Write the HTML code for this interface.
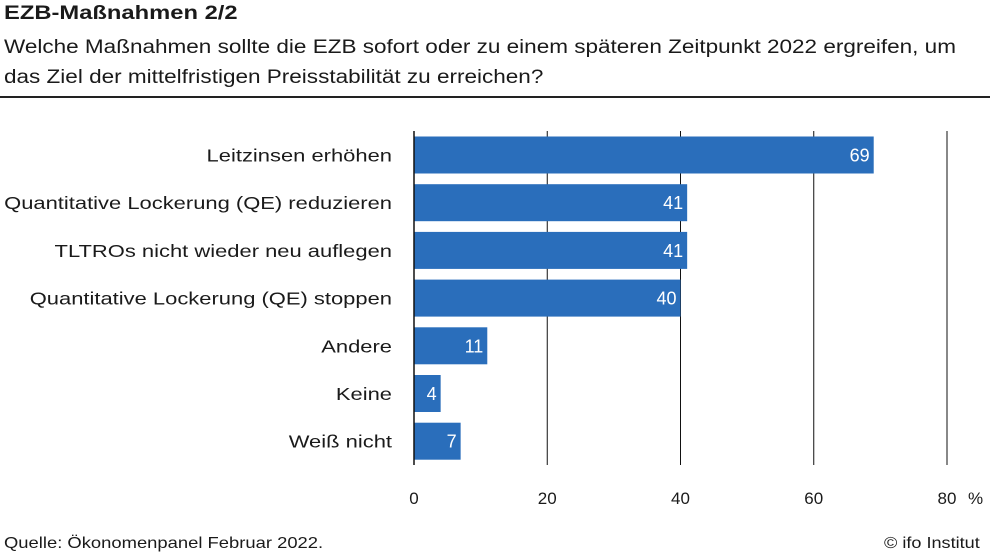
<!DOCTYPE html>
<html><head><meta charset="utf-8"><style>
body{margin:0;background:#fff;width:990px;height:557px;overflow:hidden;font-family:"Liberation Sans",sans-serif;color:#1a1a1a}
.t{position:absolute;white-space:nowrap;transform-origin:0 0}
</style></head><body>
<div class="t" style="left:4px;top:3px;font-size:19px;font-weight:bold;transform:scaleX(1.25)">EZB-Maßnahmen 2/2</div>
<div class="t" style="left:4px;top:33px;font-size:19px;line-height:30px;transform:scaleX(1.185)">Welche Maßnahmen sollte die EZB sofort oder zu einem späteren Zeitpunkt 2022 ergreifen, um<br>das Ziel der mittelfristigen Preisstabilität zu erreichen?</div>
<div style="position:absolute;left:0;top:96px;width:990px;height:2px;background:#222"></div>
<svg id="c" width="990" height="557" style="position:absolute;left:0;top:0"></svg>
<div class="t" style="left:4px;top:535px;font-size:16px;transform:scaleX(1.15)">Quelle: Ökonomenpanel Februar 2022.</div>
<div class="t" style="left:884px;top:535px;font-size:16px;transform:scaleX(1.13)">© ifo Institut</div>
<script>
const categories=["Leitzinsen erhöhen","Quantitative Lockerung (QE) reduzieren","TLTROs nicht wieder neu auflegen","Quantitative Lockerung (QE) stoppen","Andere","Keine","Weiß nicht"];
const values=[69,41,41,40,11,4,7];
const ticks=[0,20,40,60,80];
const NS="http://www.w3.org/2000/svg";
const svg=document.getElementById('c');
const x=v=>414+v*6.6625;
const yc=i=>155+i*47.7;
function mk(t,a,p){const e=document.createElementNS(NS,t);for(const k in a)e.setAttribute(k,a[k]);(p||svg).appendChild(e);return e;}
ticks.forEach(t=>{
 if(t>0){const l=mk('line',{x1:x(t),x2:x(t),y1:131,y2:465,stroke:'#111','stroke-width':1});
 
 }
 const tx=mk('text',{x:x(t),y:504,'text-anchor':'middle','font-size':17,fill:'#1a1a1a'});tx.textContent=t;
 
 
});
const pc=mk('text',{x:968,y:504,'font-size':17,fill:'#1a1a1a'});pc.textContent='%';


categories.forEach((c,i)=>{
 const r=mk('rect',{x:x(0),y:yc(i)-18.5,width:x(values[i])-x(0),height:37,fill:'#2a6ebb'});
 
 
 const v=mk('text',{x:x(values[i])-4,y:yc(i)+6.5,'text-anchor':'end','font-size':18,fill:'#fff'});v.textContent=values[i];
 
 
 const lb=mk('text',{x:0,y:0,'text-anchor':'end','font-size':18,fill:'#1a1a1a',transform:'translate(392,'+(yc(i)+6.5)+') scale(1.22,1)'});lb.textContent=c;
 
 
});
const ax=mk('line',{x1:x(0),x2:x(0),y1:131,y2:465,stroke:'#111','stroke-width':1.5});


</script>
</body></html>
